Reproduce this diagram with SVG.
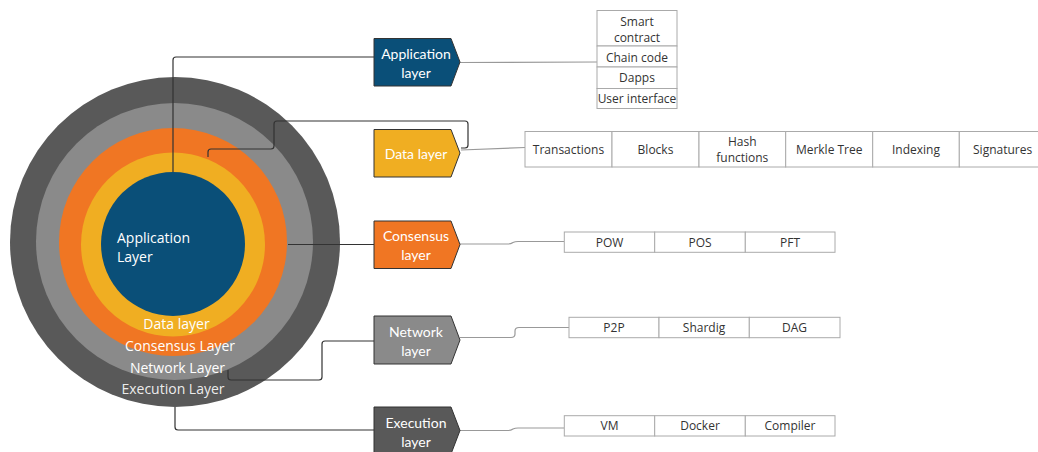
<svg xmlns="http://www.w3.org/2000/svg" width="1038" height="452" viewBox="0 0 1038 452">
<style>
.ring{stroke:none}
.ct{font-family:"Open Sans","Liberation Sans",sans-serif;font-size:14px;fill:#ffffff;text-anchor:middle}
.pl{stroke:#333;stroke-width:1}
.pt{font-family:Lato,"Liberation Sans",sans-serif;font-size:14px;fill:#ffffff;text-anchor:middle}
.cell{fill:#ffffff;stroke:#aaaaaa;stroke-width:1}
.tt{font-family:"Open Sans","Liberation Sans",sans-serif;font-size:12px;fill:#333333;text-anchor:middle}
.dk{fill:none;stroke:#333333;stroke-width:1.2}
.gr{fill:none;stroke:#999999;stroke-width:1.2}
</style>
<rect width="1038" height="452" fill="#ffffff"/>
<g id="rings">
<circle class="ring" cx="175" cy="242" r="165" fill="#595959"/>
<circle class="ring" cx="174.5" cy="241.5" r="138.5" fill="#8a8a8a"/>
<circle class="ring" cx="173" cy="242" r="114" fill="#f07623"/>
<circle class="ring" cx="173" cy="244.5" r="92" fill="#f0ae22"/>
<circle class="ring" cx="173" cy="244" r="72" fill="#0a4f78"/>
<text class="ct" x="117" y="243" style="text-anchor:start">Application</text>
<text class="ct" x="117" y="261.5" style="text-anchor:start">Layer</text>
<text class="ct" x="176.5" y="328.5">Data layer</text>
<text class="ct" x="180" y="350.5">Consensus Layer</text>
<text class="ct" x="177.5" y="372.5">Network Layer</text>
<text class="ct" x="173" y="394" fill-opacity="0.9">Execution Layer</text>
</g>
<g id="connectors">
<path class="dk" d="M173,172 V60 Q173,57 176,57 H374"/>
<path class="dk" d="M208,157 V152 Q208,149 211,149 H271 Q274,149 274,146 V124 Q274,121 277,121 H465 Q468,121 468,124 V145 Q468,148 465,148 H461"/>
<path class="dk" d="M288,244.5 H374"/>
<path class="dk" d="M228,370 V377 Q228,380 231,380 H319 Q322,380 322,377 V344 Q322,341 325,341 H374"/>
<path class="dk" d="M175,407 V427 Q175,430 178,430 H374"/>
<path class="gr" d="M460,62.5 L597,62"/>
<path class="gr" d="M461,150 L525,147.5"/>
<path class="gr" d="M460,244 H508 Q511,244 513,242.5 Q515,241.5 518,241.5 H564"/>
<path class="gr" d="M460,337.5 H511 Q515,337.5 515,334 V331 Q515,327.5 519,327.5 H569"/>
<path class="gr" d="M460,430.5 H508 Q511,430.5 513,429 Q515,428 518,428 H564"/>
</g>
<g id="app-layer">
<path class="pl" d="M374,38.5 H451 L460,62 L451,86 H374 Z" fill="#0a4f78"/>
<text class="pt" x="416" y="58.5">Application</text>
<text class="pt" x="416" y="77.5">layer</text>
</g>
<g id="data-layer">
<path class="pl" d="M374,129.5 H451 L460,153 L451,177 H374 Z" fill="#f0ae22"/>
<text class="pt" x="416" y="158.5">Data layer</text>
</g>
<g id="consensus-layer">
<path class="pl" d="M374,221 H451 L460,244.5 L451,268.5 H374 Z" fill="#f07623"/>
<text class="pt" x="416" y="240.5">Consensus</text>
<text class="pt" x="416" y="259.5">layer</text>
</g>
<g id="network-layer">
<path class="pl" d="M374,316 H451 L460,340 L451,364 H374 Z" fill="#8a8a8a"/>
<text class="pt" x="416" y="336.5">Network</text>
<text class="pt" x="416" y="355.5">layer</text>
</g>
<g id="execution-layer">
<path class="pl" d="M374,407 H451 L460,430.5 L451,454 H374 Z" fill="#595959"/>
<text class="pt" x="416" y="428">Execution</text>
<text class="pt" x="416" y="447">layer</text>
</g>
<g id="app-table">
<rect class="cell" x="597" y="10.5" width="80" height="35.5"/>
<rect class="cell" x="597" y="46" width="80" height="21"/>
<rect class="cell" x="597" y="67" width="80" height="21.5"/>
<rect class="cell" x="597" y="88.5" width="80" height="20"/>
<text class="tt" x="637" y="25.5">Smart</text>
<text class="tt" x="637" y="41.5">contract</text>
<text class="tt" x="637" y="61.5">Chain code</text>
<text class="tt" x="637" y="82">Dapps</text>
<text class="tt" x="637" y="103">User interface</text>
</g>
<g id="data-table">
<rect class="cell" x="525" y="131.5" width="87" height="35.5"/>
<rect class="cell" x="612" y="131.5" width="87" height="35.5"/>
<rect class="cell" x="699" y="131.5" width="86.7" height="35.5"/>
<rect class="cell" x="785.7" y="131.5" width="87" height="35.5"/>
<rect class="cell" x="872.7" y="131.5" width="86.6" height="35.5"/>
<rect class="cell" x="959.3" y="131.5" width="86.7" height="35.5"/>
<text class="tt" x="568.5" y="153.8">Transactions</text>
<text class="tt" x="655.5" y="153.8">Blocks</text>
<text class="tt" x="742.3" y="146">Hash</text>
<text class="tt" x="742.3" y="161.5">functions</text>
<text class="tt" x="829.2" y="153.8">Merkle Tree</text>
<text class="tt" x="916" y="153.8">Indexing</text>
<text class="tt" x="1002.6" y="153.8">Signatures</text>
</g>
<g id="consensus-table">
<rect class="cell" x="564.3" y="232" width="90.4" height="20.3"/>
<rect class="cell" x="654.7" y="232" width="90.6" height="20.3"/>
<rect class="cell" x="745.3" y="232" width="89.7" height="20.3"/>
<text class="tt" x="609.5" y="246.5">POW</text>
<text class="tt" x="700" y="246.5">POS</text>
<text class="tt" x="790" y="246.5">PFT</text>
</g>
<g id="network-table">
<rect class="cell" x="569" y="317.3" width="90" height="20.4"/>
<rect class="cell" x="659" y="317.3" width="90.3" height="20.4"/>
<rect class="cell" x="749.3" y="317.3" width="90.7" height="20.4"/>
<text class="tt" x="614" y="331.8">P2P</text>
<text class="tt" x="704" y="331.8">Shardig</text>
<text class="tt" x="794.6" y="331.8">DAG</text>
</g>
<g id="execution-table">
<rect class="cell" x="564.3" y="415.7" width="90.4" height="20.3"/>
<rect class="cell" x="654.7" y="415.7" width="90.6" height="20.3"/>
<rect class="cell" x="745.3" y="415.7" width="89.7" height="20.3"/>
<text class="tt" x="609.5" y="430.2">VM</text>
<text class="tt" x="700" y="430.2">Docker</text>
<text class="tt" x="790" y="430.2">Compiler</text>
</g>
</svg>
